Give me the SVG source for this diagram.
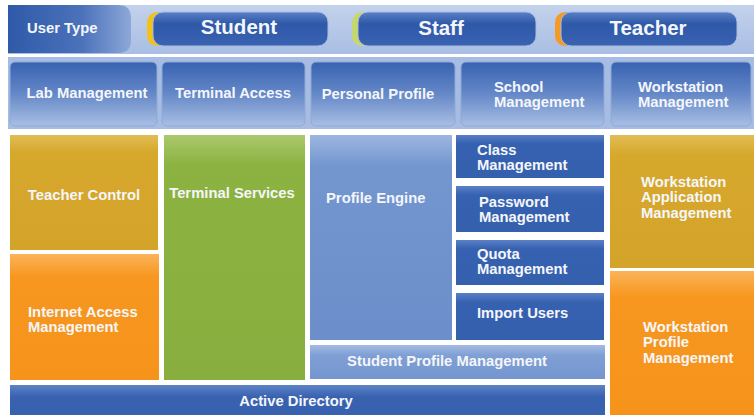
<svg xmlns="http://www.w3.org/2000/svg" width="754" height="415" viewBox="0 0 754 415">
<defs>
<linearGradient id="gBand" x1="0" y1="0" x2="0" y2="1"><stop offset="0" stop-color="#c3d2ec"/><stop offset="1" stop-color="#a9bee3"/></linearGradient>
<linearGradient id="gUser" x1="0" y1="0" x2="1" y2="0"><stop offset="0" stop-color="#2f5aa9"/><stop offset="0.6" stop-color="#4b72ba"/><stop offset="1" stop-color="#8da8d8"/></linearGradient>
<linearGradient id="gPill" x1="0" y1="0" x2="0" y2="1"><stop offset="0" stop-color="#5a80c6"/><stop offset="0.35" stop-color="#2e58a8"/><stop offset="1" stop-color="#3a64b2"/></linearGradient>
<linearGradient id="gRow2" x1="0" y1="0" x2="0" y2="1"><stop offset="0" stop-color="#3862b1"/><stop offset="0.5" stop-color="#6588c8"/><stop offset="1" stop-color="#a9bfe4"/></linearGradient>
<linearGradient id="gGold" x1="0" y1="0" x2="0" y2="1"><stop offset="0" stop-color="#e1bd55"/><stop offset="0.15" stop-color="#d6a82c"/><stop offset="1" stop-color="#d4a42a"/></linearGradient>
<linearGradient id="gOrange" x1="0" y1="0" x2="0" y2="1"><stop offset="0" stop-color="#fbb35a"/><stop offset="0.18" stop-color="#f7971f"/><stop offset="1" stop-color="#f6931b"/></linearGradient>
<linearGradient id="gGreen" x1="0" y1="0" x2="0" y2="1"><stop offset="0" stop-color="#abc96e"/><stop offset="0.12" stop-color="#8cb241"/><stop offset="1" stop-color="#88ae3f"/></linearGradient>
<linearGradient id="gLBlue" x1="0" y1="0" x2="0" y2="1"><stop offset="0" stop-color="#9db6e0"/><stop offset="0.15" stop-color="#7396cf"/><stop offset="1" stop-color="#6c8fcb"/></linearGradient>
<linearGradient id="gDBlue" x1="0" y1="0" x2="0" y2="1"><stop offset="0" stop-color="#5a80c6"/><stop offset="0.2" stop-color="#3661b0"/><stop offset="1" stop-color="#3460ae"/></linearGradient>
<linearGradient id="gSPM" x1="0" y1="0" x2="0" y2="1"><stop offset="0" stop-color="#a4bbe2"/><stop offset="0.3" stop-color="#7f9fd5"/><stop offset="1" stop-color="#7595cf"/></linearGradient>
<linearGradient id="gAD" x1="0" y1="0" x2="0" y2="1"><stop offset="0" stop-color="#5d82c6"/><stop offset="0.4" stop-color="#3862b0"/><stop offset="1" stop-color="#3862b0"/></linearGradient>
</defs>
<style>
text{font-family:"Liberation Sans",Arial,sans-serif;font-weight:bold;fill:#f4f6fa;font-size:14.8px}
.big{font-size:20.5px}
.c{text-anchor:middle}
.r2{fill:url(#gRow2);stroke:#8fa9d7;stroke-width:1}
.pill{fill:url(#gPill);stroke:#a7bce2;stroke-width:1}
</style>
<rect width="754" height="415" fill="#ffffff"/>
<g id="bands">
<rect x="8" y="5" width="746" height="49" fill="url(#gBand)"/>
<rect x="8" y="57" width="746" height="72" fill="#a6bce2"/>
</g>
<g id="user-type">
<path d="M8 5 H118 Q131 5 131 18 V41 Q131 53 118 53 H8 Z" fill="url(#gUser)"/>
<text x="27" y="33">User Type</text>
</g>
<g id="student">
<rect x="147" y="12" width="30" height="34" rx="10" fill="#f2c21a"/>
<rect x="153" y="12" width="175" height="34" rx="10" class="pill"/>
<text x="239" y="34" class="big c">Student</text>
</g>
<g id="staff">
<rect x="352" y="12" width="30" height="34" rx="10" fill="#c7d86a"/>
<rect x="358" y="12" width="178" height="34" rx="10" class="pill"/>
<text x="441" y="35" class="big c">Staff</text>
</g>
<g id="teacher">
<rect x="555" y="12" width="30" height="34" rx="10" fill="#f59a25"/>
<rect x="561" y="12" width="176" height="34" rx="10" class="pill"/>
<text x="648" y="35" class="big c">Teacher</text>
</g>
<g id="lab-management">
<rect x="10" y="62" width="147" height="64" rx="5" class="r2"/>
<text x="87" y="98" class="c">Lab Management</text>
</g>
<g id="terminal-access">
<rect x="162" y="62" width="143" height="64" rx="5" class="r2"/>
<text x="233" y="98" class="c">Terminal Access</text>
</g>
<g id="personal-profile">
<rect x="311" y="62" width="144" height="64" rx="5" class="r2"/>
<text x="378" y="99" class="c">Personal Profile</text>
</g>
<g id="school-management">
<rect x="461" y="62" width="143" height="64" rx="5" class="r2"/>
<text x="494" y="92">School</text>
<text x="494" y="107">Management</text>
</g>
<g id="workstation-management">
<rect x="611" y="62" width="140" height="64" rx="5" class="r2"/>
<text x="638" y="92">Workstation</text>
<text x="638" y="107">Management</text>
</g>
<g id="teacher-control">
<rect x="10" y="135" width="148" height="115" fill="url(#gGold)"/>
<text x="84" y="200" class="c">Teacher Control</text>
</g>
<g id="internet-access-management">
<rect x="10" y="254" width="149" height="126" fill="url(#gOrange)"/>
<text x="28" y="317">Internet Access</text>
<text x="28" y="332">Management</text>
</g>
<g id="terminal-services">
<rect x="164" y="135" width="141" height="245" fill="url(#gGreen)"/>
<text x="232" y="198" class="c">Terminal Services</text>
</g>
<g id="profile-engine">
<rect x="310" y="135" width="142" height="205" fill="url(#gLBlue)"/>
<text x="326" y="203">Profile Engine</text>
</g>
<g id="class-management">
<rect x="456" y="135" width="148" height="43" fill="url(#gDBlue)"/>
<text x="477" y="155">Class</text>
<text x="477" y="170">Management</text>
</g>
<g id="password-management">
<rect x="456" y="186" width="148" height="46" fill="url(#gDBlue)"/>
<text x="479" y="207">Password</text>
<text x="479" y="222">Management</text>
</g>
<g id="quota-management">
<rect x="456" y="240" width="148" height="45" fill="url(#gDBlue)"/>
<text x="477" y="259">Quota</text>
<text x="477" y="274">Management</text>
</g>
<g id="import-users">
<rect x="456" y="293" width="148" height="47" fill="url(#gDBlue)"/>
<text x="477" y="318">Import Users</text>
</g>
<g id="student-profile-management">
<rect x="310" y="345" width="295" height="34" fill="url(#gSPM)"/>
<text x="447" y="366" class="c">Student Profile Management</text>
</g>
<g id="active-directory">
<rect x="10" y="385" width="595" height="30" fill="url(#gAD)"/>
<text x="296" y="406" class="c">Active Directory</text>
</g>
<g id="workstation-application-management">
<rect x="610" y="135" width="144" height="133" fill="url(#gGold)"/>
<text x="641" y="187">Workstation</text>
<text x="641" y="202">Application</text>
<text x="641" y="218">Management</text>
</g>
<g id="workstation-profile-management">
<rect x="610" y="271" width="144" height="144" fill="url(#gOrange)"/>
<text x="643" y="332">Workstation</text>
<text x="643" y="347">Profile</text>
<text x="643" y="363">Management</text>
</g>
<g id="connectors"/>
</svg>
